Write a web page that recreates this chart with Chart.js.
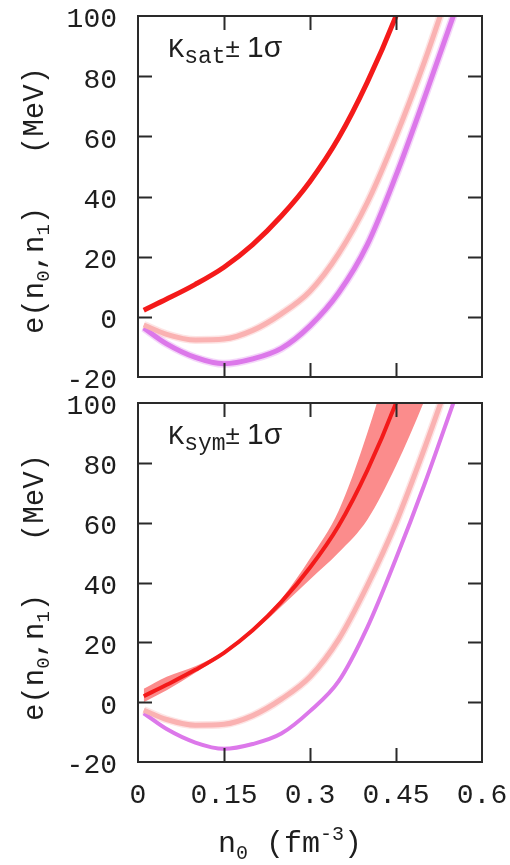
<!DOCTYPE html>
<html>
<head>
<meta charset="utf-8">
<script src="https://cdn.jsdelivr.net/npm/chart.js@4.4.0/dist/chart.umd.min.js"></script>
<style>
  body { margin: 0; background: #fff; width: 510px; height: 865px; overflow: hidden; position: relative; }
  canvas { position: absolute; left: 0; }
  #top { top: 0; }
  #bottom { top: 390px; }
</style>
</head>
<body>
<canvas id="top" width="510" height="390"></canvas>
<canvas id="bottom" width="510" height="475"></canvas>
<script>
// density grid (fm^-3) and tick values
var nDensity = [0.01, 0.05, 0.1, 0.15, 0.2, 0.25, 0.3, 0.35, 0.4, 0.45, 0.5, 0.55];
var xTicks = [0, 0.15, 0.3, 0.45, 0.6];
var xTickLabels = ['0', '0.15', '0.3', '0.45', '0.6'];
var yTicks = [-20, 0, 20, 40, 60, 80, 100];

// top panel: Ksat +- 1 sigma (MeV)
var satRed    = [2.2, 5.9, 10.8, 16.5, 24, 33.5, 45, 59.5, 78, 100, 126, 156];
var satPink   = [-2.7, -5.8, -7.7, -7.4, -4.5, 1, 8.5, 21, 38, 60, 85, 113];
var satViolet = [-3.7, -9, -13.5, -15.6, -14, -10.5, -3, 8, 24, 47, 73, 100];

// bottom panel: Ksym +- 1 sigma (MeV)
var symRed    = [2, 5.8, 10.8, 16.5, 24, 33.5, 45, 59, 77.5, 100, 127, 158];
var symRedHi  = [4.5, 8.5, 12, 17, 24.8, 34.5, 48, 64, 90, 122, 160, 200];
var symRedLo  = [0, 4, 9.8, 16, 23.3, 32, 41, 50, 61, 79, 101, 125];
var symPink   = [-2.7, -5.8, -7.7, -7.4, -4.5, 1, 8.5, 21, 39, 60, 85, 112];
var symViolet = [-3.7, -9, -13.5, -15.6, -14, -10.5, -3, 7, 25, 48, 73, 100];

var MONO = '"Liberation Mono", "DejaVu Sans Mono", monospace';
var SANS = '"Liberation Sans", Arial, sans-serif';
var RED = '#f41a1a', PINK = '#fab2b2', VIOLET = '#dc78ea', BAND = '#fb8c8c';

function pts(ys) {
  return nDensity.map(function (n, i) { return { x: n, y: ys[i] }; });
}

function line(ys, color, width, order) {
  return {
    data: pts(ys), borderColor: color, borderWidth: width, pointRadius: 0,
    cubicInterpolationMode: 'monotone', fill: false, clip: 0, order: order
  };
}

// draws text pieces one after the other (sub / superscripts via dy)
function drawRich(ctx, x, y, parts) {
  parts.forEach(function (p) {
    ctx.font = p.font;
    ctx.fillText(p.text, x, y + (p.dy || 0));
    x += ctx.measureText(p.text).width;
  });
  return x;
}

var framePlugin = {
  id: 'frame',
  afterDatasetsDraw: function (chart, args, opts) {
    var ctx = chart.ctx, a = chart.chartArea;
    var xs = chart.scales.x, ys = chart.scales.y;
    ctx.save();
    ctx.strokeStyle = '#2a2a2a';
    ctx.lineWidth = 2;
    ctx.strokeRect(a.left, a.top, a.right - a.left, a.bottom - a.top);
    ctx.beginPath();
    xTicks.slice(1, -1).forEach(function (v) {
      var px = Math.round(xs.getPixelForValue(v)) + 0.5;
      ctx.moveTo(px, a.bottom); ctx.lineTo(px, a.bottom - 14);
      ctx.moveTo(px, a.top); ctx.lineTo(px, a.top + 14);
    });
    yTicks.slice(1, -1).forEach(function (v) {
      var py = Math.round(ys.getPixelForValue(v)) + 0.5;
      ctx.moveTo(a.left, py); ctx.lineTo(a.left + 14, py);
      ctx.moveTo(a.right, py); ctx.lineTo(a.right - 14, py);
    });
    ctx.stroke();

    // panel label  K_xxx +- 1 sigma
    ctx.fillStyle = '#1e1e1e';
    ctx.textBaseline = 'alphabetic';
    ctx.textAlign = 'left';
    var x = drawRich(ctx, a.left + 30, a.top + 41, [
      { text: 'K', font: '27px ' + MONO },
      { text: opts.label, font: '23px ' + MONO, dy: 6 }
    ]);
    drawRich(ctx, x, a.top + 41, [
      { text: '\u00b1 ', font: '26px ' + SANS },
      { text: '1\u03c3', font: '30px ' + SANS }
    ]);

    // y title, rotated
    ctx.translate(43, a.top + 318);
    ctx.rotate(-Math.PI / 2);
    drawRich(ctx, 0, 0, [
      { text: 'e(n', font: '29px ' + MONO },
      { text: '0', font: '19px ' + MONO, dy: 6 },
      { text: ',n', font: '29px ' + MONO },
      { text: '1', font: '19px ' + MONO, dy: 6 },
      { text: ')', font: '29px ' + MONO }
    ]);
    drawRich(ctx, 180, 0, [{ text: '(MeV)', font: '29px ' + MONO }]);
    ctx.restore();

    if (opts.xTitle) {
      ctx.save();
      ctx.fillStyle = '#1e1e1e';
      drawRich(ctx, 218, 462, [
        { text: 'n', font: '30px ' + MONO },
        { text: '0', font: '20px ' + MONO, dy: 7 },
        { text: ' (fm', font: '30px ' + MONO },
        { text: '-3', font: '20px ' + MONO, dy: -12 },
        { text: ')', font: '30px ' + MONO }
      ]);
      ctx.restore();
    }
  }
};

function makeChart(id, datasets, label, showX) {
  var h = document.getElementById(id).height;
  var plotBottom = showX ? 372 : 377;
  return new Chart(document.getElementById(id), {
    type: 'line',
    data: { datasets: datasets },
    options: {
      responsive: false,
      animation: false,
      layout: { padding: { top: showX ? 13 : 16, right: 28, left: 0, bottom: 0 } },
      plugins: {
        legend: { display: false },
        tooltip: { enabled: false },
        frame: { label: label, xTitle: showX }
      },
      scales: {
        x: {
          type: 'linear', min: 0, max: 0.6,
          grid: { display: false, drawTicks: false },
          border: { display: false },
          afterBuildTicks: function (s) { s.ticks = xTicks.map(function (v) { return { value: v }; }); },
          afterFit: function (s) {
            s.height = h - plotBottom;
            s.paddingLeft = 0; s.paddingRight = 0;
          },
          ticks: {
            display: showX, padding: 17, color: '#1e1e1e', maxRotation: 0,
            font: { family: MONO, size: 28 },
            callback: function (v) { return xTickLabels[xTicks.indexOf(v)]; }
          }
        },
        y: {
          min: -20, max: 100,
          grid: { display: false, drawTicks: false },
          border: { display: false },
          afterBuildTicks: function (s) { s.ticks = yTicks.map(function (v) { return { value: v }; }); },
          afterFit: function (s) {
            s.width = 138;
            s.paddingTop = 0; s.paddingBottom = 0;
          },
          ticks: {
            padding: 21, labelOffset: 4, color: '#1e1e1e',
            font: { family: MONO, size: 28 }
          }
        }
      }
    },
    plugins: [framePlugin]
  });
}

function halo(ys, color) {
  return line(ys, color, 8, 5);
}

makeChart('top', [
  halo(satPink, 'rgba(250,178,178,0.35)'),
  halo(satViolet, 'rgba(220,120,234,0.3)'),
  line(satPink, PINK, 5, 3),
  line(satViolet, VIOLET, 5, 3),
  line(satRed, RED, 5, 1)
], 'sat', false);

var bandHi = line(symRedHi, 'rgba(0,0,0,0)', 0, 6);
bandHi.fill = '+1';
bandHi.backgroundColor = BAND;
var bandLo = line(symRedLo, 'rgba(0,0,0,0)', 0, 6);

makeChart('bottom', [
  bandHi,
  bandLo,
  halo(symPink, 'rgba(250,178,178,0.35)'),
  line(symPink, PINK, 5, 3),
  line(symViolet, VIOLET, 4, 3),
  line(symRed, RED, 4, 1)
], 'sym', true);
</script>
</body>
</html>
